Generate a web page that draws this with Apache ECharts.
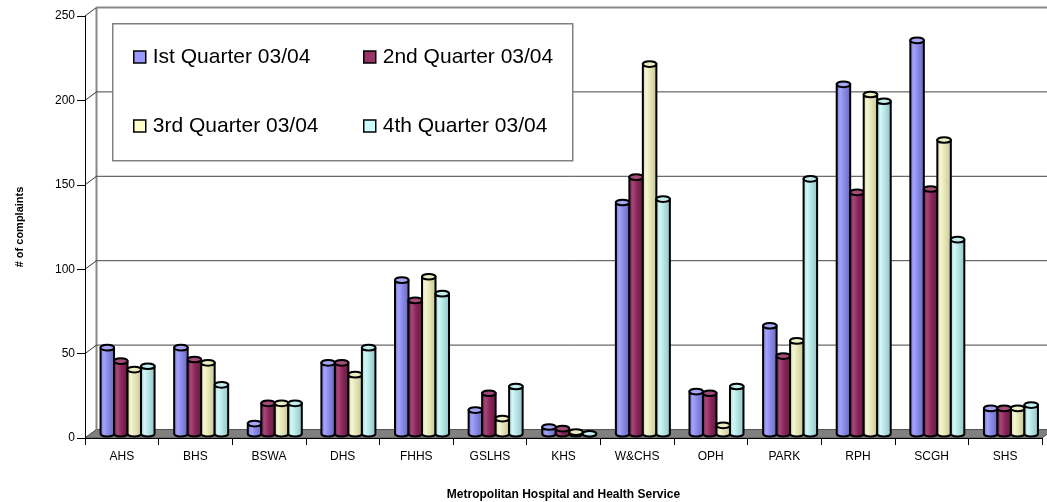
<!DOCTYPE html>
<html>
<head>
<meta charset="utf-8">
<script src="https://cdn.jsdelivr.net/npm/echarts@6/dist/echarts.min.js"></script>
<style>
  html, body { margin: 0; padding: 0; background: #fff; }
  #chart { width: 1047px; height: 502px; }
</style>
</head>
<body>
<div id="chart"></div>
<script>
// Complaints per health service, by quarter of 2003/04
const categories = ['AHS', 'BHS', 'BSWA', 'DHS', 'FHHS', 'GSLHS', 'KHS', 'W&CHS', 'OPH', 'PARK', 'RPH', 'SCGH', 'SHS'];
const seriesNames = ['Ist Quarter 03/04', '2nd Quarter 03/04', '3rd Quarter 03/04', '4th Quarter 03/04'];
const q1 = [51, 51, 6, 42, 91, 14, 4, 137, 25, 64, 207, 233, 15];
const q2 = [43, 44, 18, 42, 79, 24, 3, 152, 24, 46, 143, 145, 15];
const q3 = [38, 42, 18, 35, 93, 9, 1, 219, 5, 55, 201, 174, 15];
const q4 = [40, 29, 18, 51, 83, 28, 0, 139, 28, 151, 197, 115, 17];
const yTicks = [0, 50, 100, 150, 200, 250];

const quarters = [q1, q2, q3, q4];

// Cylinder shading per quarter: flat colour (legend), body gradient, cap fill
const palette = [
  { flat: '#9999FF', body: ['#6c6cc8', '#a4a4ff', '#8a8ae6', '#6464bc'], cap: '#a6a6f6' },
  { flat: '#993366', body: ['#6e1c48', '#a8467a', '#882858', '#601640'], cap: '#a44c7a' },
  { flat: '#FFFFCC', body: ['#cfcf9f', '#f6f6d2', '#e4e4b6', '#c2c294'], cap: '#eeeec4' },
  { flat: '#CCFFFF', body: ['#9ccccc', '#d2f8f8', '#b6e4e4', '#90c0c0'], cap: '#c4eeee' }
];

// Depth of the pseudo-3D plot box (back wall offset from the front axes)
const DX = 11.5, DY = 8.5;
const FONT = "'Liberation Sans', Arial, Helvetica, sans-serif";

const chart = echarts.init(document.getElementById('chart'), null, { renderer: 'canvas' });

function cylinderSeries(s) {
  const colors = palette[s];
  return {
    name: seriesNames[s],
    type: 'custom',
    z: 3,
    itemStyle: { color: colors.flat },
    data: quarters[s].map((v, i) => [i, v]),
    renderItem: function (params, api) {
      const i = api.value(0), v = api.value(1);
      const base = api.coord([i, 0]);
      const top = api.coord([i, v]);
      const bw = api.size([1, 0])[0];
      const w = bw * 0.1834;
      const rx = w / 2, ry = w * 0.21;
      const x0 = base[0] + DX / 2 - 2 * w + s * w;
      const x1 = x0 + w;
      const by = base[1] - DY / 2;
      const ty = top[1] - DY / 2;
      const body = 'M' + x0 + ' ' + ty + ' L' + x0 + ' ' + by +
        ' A' + rx + ' ' + ry + ' 0 0 0 ' + x1 + ' ' + by +
        ' L' + x1 + ' ' + ty + ' Z';
      const cap = 'M' + x0 + ' ' + ty +
        ' A' + rx + ' ' + ry + ' 0 1 0 ' + x1 + ' ' + ty +
        ' A' + rx + ' ' + ry + ' 0 1 0 ' + x0 + ' ' + ty + ' Z';
      const grad = new echarts.graphic.LinearGradient(0, 0, 1, 0, [
        { offset: 0, color: colors.body[0] },
        { offset: 0.28, color: colors.body[1] },
        { offset: 0.55, color: colors.body[2] },
        { offset: 1, color: colors.body[3] }
      ]);
      return {
        type: 'group',
        children: [
          { type: 'path', shape: { pathData: body },
            style: { fill: grad, stroke: '#000', lineWidth: 2 } },
          { type: 'path', shape: { pathData: cap },
            style: { fill: colors.cap, stroke: '#000', lineWidth: 2 } }
        ]
      };
    }
  };
}

// Back wall, floor and the short depth connectors at each value tick
const frameSeries = {
  type: 'custom',
  silent: true,
  z: 0,
  data: yTicks.map(v => [0, v]),
  renderItem: function (params, api) {
    const cs = params.coordSys;
    const v = api.value(1);
    const y = api.coord([0, v])[1];
    const children = [
      { type: 'line', shape: { x1: cs.x, y1: y, x2: cs.x + DX, y2: y - DY },
        style: { stroke: '#333', lineWidth: 1 } }
    ];
    if (v === 0) {
      children.push({
        type: 'polygon',
        shape: { points: [[cs.x, y], [cs.x + cs.width, y], [cs.x + cs.width + DX, y - DY], [cs.x + DX, y - DY]] },
        style: { fill: '#808080', stroke: '#555', lineWidth: 1 }
      });
      children.push({
        type: 'line', shape: { x1: cs.x + DX, y1: y - DY, x2: cs.x + DX, y2: cs.y - DY },
        style: { stroke: '#888', lineWidth: 2 }
      });
    } else {
      const top = v === yTicks[yTicks.length - 1];
      children.push({
        type: 'line', shape: { x1: cs.x + DX, y1: y - DY, x2: cs.x + cs.width + DX, y2: y - DY },
        style: { stroke: top ? '#888' : '#444', lineWidth: top ? 2 : 1 }
      });
    }
    return { type: 'group', children: children };
  }
};

const legendCommon = {
  orient: 'vertical',
  icon: 'rect',
  itemWidth: 12,
  itemHeight: 12,
  itemGap: 45,
  itemStyle: { borderColor: '#000', borderWidth: 1.5 },
  textStyle: { fontFamily: FONT, fontSize: 21, color: '#000', lineHeight: 24, padding: [0, 0, 0, 2] },
  selectedMode: false,
  top: 45,
  padding: 0,
  z: 5
};

chart.setOption({
  animation: false,
  backgroundColor: '#fff',
  textStyle: { fontFamily: FONT },
  grid: { left: 85, top: 16, width: 957, height: 422, containLabel: false, outerBoundsMode: 'none' },
  legend: [
    Object.assign({}, legendCommon, { left: 133, data: [seriesNames[0], seriesNames[2]] }),
    Object.assign({}, legendCommon, { left: 363, data: [seriesNames[1], seriesNames[3]] })
  ],
  graphic: [
    { type: 'rect', left: 112, top: 23, z: 1,
      shape: { width: 460, height: 137 },
      style: { fill: '#fff', stroke: '#808080', lineWidth: 1.5 } }
  ],
  xAxis: {
    type: 'category',
    data: categories,
    z: 4,
    name: 'Metropolitan Hospital and Health Service',
    nameLocation: 'middle',
    nameGap: 51,
    nameTextStyle: { fontFamily: FONT, fontSize: 12, fontWeight: 'bold', color: '#000' },
    axisLine: { lineStyle: { color: '#000', width: 1 } },
    axisTick: { show: true, length: 7, lineStyle: { color: '#000' } },
    axisLabel: { fontFamily: FONT, fontSize: 12, color: '#000', margin: 13, interval: 0 },
    splitLine: { show: false }
  },
  yAxis: {
    type: 'value',
    min: 0,
    max: 250,
    interval: 50,
    z: 4,
    name: '# of complaints',
    nameLocation: 'middle',
    nameRotate: 90,
    nameGap: 60,
    nameTextStyle: { fontFamily: FONT, fontSize: 11, fontWeight: 'bold', color: '#000' },
    axisLine: { show: true, lineStyle: { color: '#000', width: 1 } },
    axisTick: { show: true, length: 8, lineStyle: { color: '#000' } },
    axisLabel: { fontFamily: FONT, fontSize: 12, color: '#000', margin: 10 },
    splitLine: { show: false }
  },
  series: [frameSeries, cylinderSeries(0), cylinderSeries(1), cylinderSeries(2), cylinderSeries(3)]
});
</script>
</body>
</html>
